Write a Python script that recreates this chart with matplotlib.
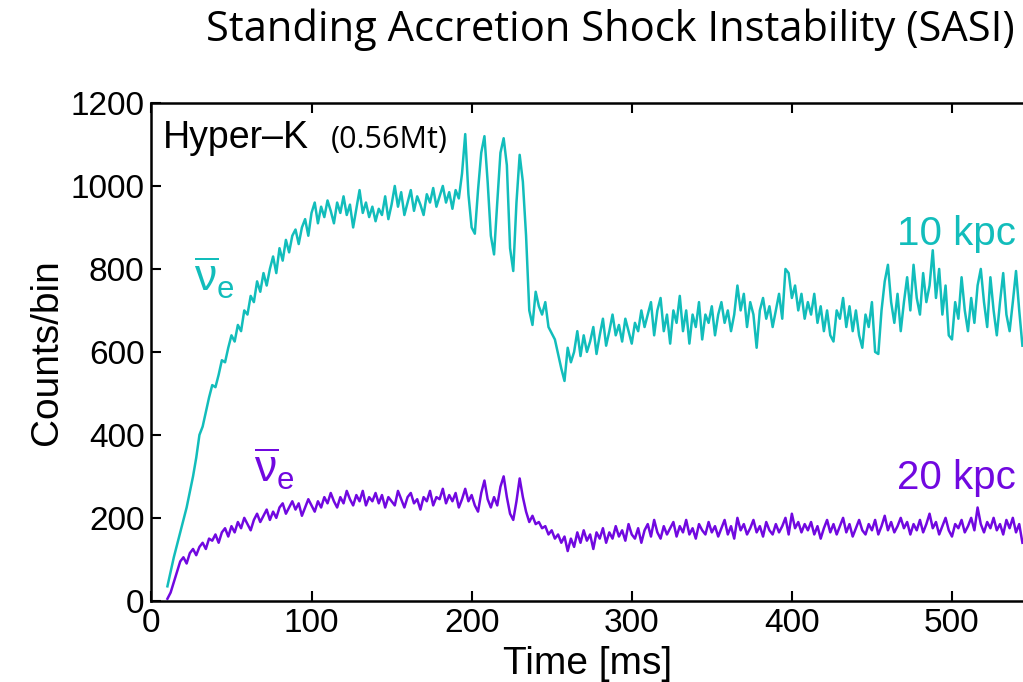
import numpy as np
import matplotlib
matplotlib.use("Agg")
import matplotlib.pyplot as plt

plt.rcParams['font.family'] = ['Liberation Sans', 'DejaVu Sans']
plt.rcParams['mathtext.fontset'] = 'custom'
plt.rcParams['mathtext.rm'] = 'Liberation Sans'
plt.rcParams['mathtext.it'] = 'Liberation Sans'

# время бинов, мс
time_ms = np.arange(10, 545, 2)

# 10 kpc
counts_10kpc = [
    35, 70, 105, 135, 165, 195, 225, 262, 300, 345,
    400, 420, 455, 490, 520, 515, 545, 580, 575, 610,
    640, 625, 665, 650, 700, 690, 735, 720, 770, 745,
    790, 760, 800, 830, 790, 850, 820, 870, 840, 880,
    895, 860, 900, 920, 880, 935, 960, 910, 950, 925,
    965, 940, 910, 960, 935, 975, 930, 955, 900, 945,
    990, 935, 960, 925, 950, 915, 945, 930, 975, 920,
    955, 1000, 950, 985, 930, 960, 990, 940, 975, 955,
    930, 980, 960, 995, 950, 975, 1000, 960, 985, 945,
    990, 970, 1030, 1125, 980, 900, 885, 990, 1080, 1120,
    1010, 880, 835, 960, 1080, 1115, 1050, 850, 795, 960,
    1075, 1010, 880, 700, 665, 745, 710, 690, 720, 660,
    645, 630, 595, 560, 530, 610, 575, 600, 650, 590,
    640, 600, 625, 660, 595, 640, 680, 615, 650, 690,
    640, 665, 625, 680, 650, 620, 670, 650, 700, 660,
    690, 720, 640, 700, 730, 650, 690, 620, 700, 670,
    735, 650, 700, 620, 690, 660, 720, 630, 690, 670,
    710, 640, 690, 720, 670, 700, 650, 690, 760, 700,
    740, 660, 720, 690, 610, 700, 730, 680, 710, 660,
    700, 740, 680, 800, 790, 730, 760, 700, 740, 680,
    720, 690, 740, 670, 710, 650, 700, 640, 625, 700,
    680, 730, 660, 710, 650, 700, 640, 610, 690, 660,
    720, 600, 595, 700, 770, 810, 720, 670, 740, 650,
    720, 780, 700, 810, 730, 690, 790, 720, 760, 845,
    730, 800, 690, 760, 640, 630, 720, 680, 780, 700,
    650, 730, 670, 760, 800, 720, 660, 780, 700, 640,
    720, 790, 690, 650, 720, 795, 700, 615,
]

# 20 kpc
counts_20kpc = [
    5, 20, 45, 70, 95, 105, 90, 115, 125, 110,
    130, 140, 125, 150, 145, 160, 140, 165, 175, 155,
    180, 165, 190, 175, 200, 185, 170, 195, 210, 190,
    205, 220, 195, 215, 200, 225, 235, 210, 225, 240,
    220, 235, 205, 225, 245, 230, 215, 240, 225, 250,
    235, 260, 240, 225, 250, 235, 265, 245, 230, 255,
    240, 265, 230, 250, 240, 260, 235, 255, 225, 250,
    240, 230, 265, 245, 225, 250, 260, 235, 245, 220,
    250, 240, 265, 230, 250, 245, 270, 235, 255, 240,
    260, 225, 245, 270, 240, 255, 230, 215, 260, 290,
    245, 225, 250, 230, 275, 300, 250, 210, 195, 240,
    295, 250, 215, 190, 205, 185, 190, 175, 180, 160,
    170, 150, 160, 140, 155, 120, 150, 130, 165, 140,
    170, 145, 160, 125, 165, 150, 175, 140, 165, 150,
    180, 155, 170, 145, 185, 160, 150, 175, 140, 170,
    185, 155, 195, 165, 150, 180, 160, 175, 190, 155,
    180, 165, 195, 160, 175, 150, 185, 170, 160, 190,
    165, 180, 155, 175, 195, 160, 180, 150, 200, 170,
    185, 160, 175, 195, 165, 180, 155, 190, 170, 160,
    185, 165, 180, 200, 160, 210, 175, 190, 165, 185,
    170, 190, 160, 180, 150, 175, 195, 165, 185, 160,
    180, 200, 165, 185, 155, 175, 195, 170, 160, 185,
    170, 195, 160, 180, 205, 170, 190, 165, 180, 200,
    175, 190, 160, 185, 170, 195, 165, 185, 210, 175,
    190, 160, 180, 200, 170, 155, 185, 175, 195, 165,
    180, 200, 170, 225, 185, 165, 190, 175, 200, 170,
    185, 160, 195, 175, 200, 165, 185, 140,
]

cyan = '#12bdbb'
purple = '#7108e0'

fig = plt.figure(figsize=(10.23, 6.82), dpi=100)
ax = fig.add_axes([0.148, 0.119, 0.853, 0.730])

ax.plot(time_ms, counts_10kpc, color=cyan, linewidth=1.8)
ax.plot(time_ms, counts_20kpc, color=purple, linewidth=1.8)

ax.set_xlim(0, 545)
ax.set_ylim(0, 1200)
ax.set_xticks([0, 100, 200, 300, 400, 500])
ax.set_yticks([0, 200, 400, 600, 800, 1000, 1200])

for s in ['left', 'bottom', 'top']:
    ax.spines[s].set_linewidth(1.8)
ax.spines['right'].set_visible(False)
ax.tick_params(direction='in', length=7, width=1.5, top=True, labelsize=24, pad=5)

ax.set_xlabel("Time [ms]", fontsize=28, labelpad=5)
ax.set_ylabel("Counts/bin", fontsize=28, labelpad=4)

ax.text(0.013, 0.93, "Hyper\u2013K", transform=ax.transAxes, fontsize=27, va='center')
ax.text(0.206, 0.926, "(0.56Mt)", transform=ax.transAxes, fontsize=22,
        family=['Open Sans', 'DejaVu Sans'], va='center')

nu_bar = r'$\overline{\mathrm{\nu}}_\mathrm{e}$'
ax.text(39, 778, nu_bar, color=cyan, fontsize=32, ha='center', va='center')
ax.text(77, 318, nu_bar, color=purple, fontsize=32, ha='center', va='center')

ax.text(540, 885, "10 kpc", color=cyan, fontsize=29, ha='right', va='center')
ax.text(540, 295, "20 kpc", color=purple, fontsize=29, ha='right', va='center')

fig.text(0.992, 0.956, "Standing Accretion Shock Instability (SASI)", fontsize=30,
         family=['Open Sans', 'DejaVu Sans'], ha='right', va='center')

fig.savefig("out.png", dpi=100)
